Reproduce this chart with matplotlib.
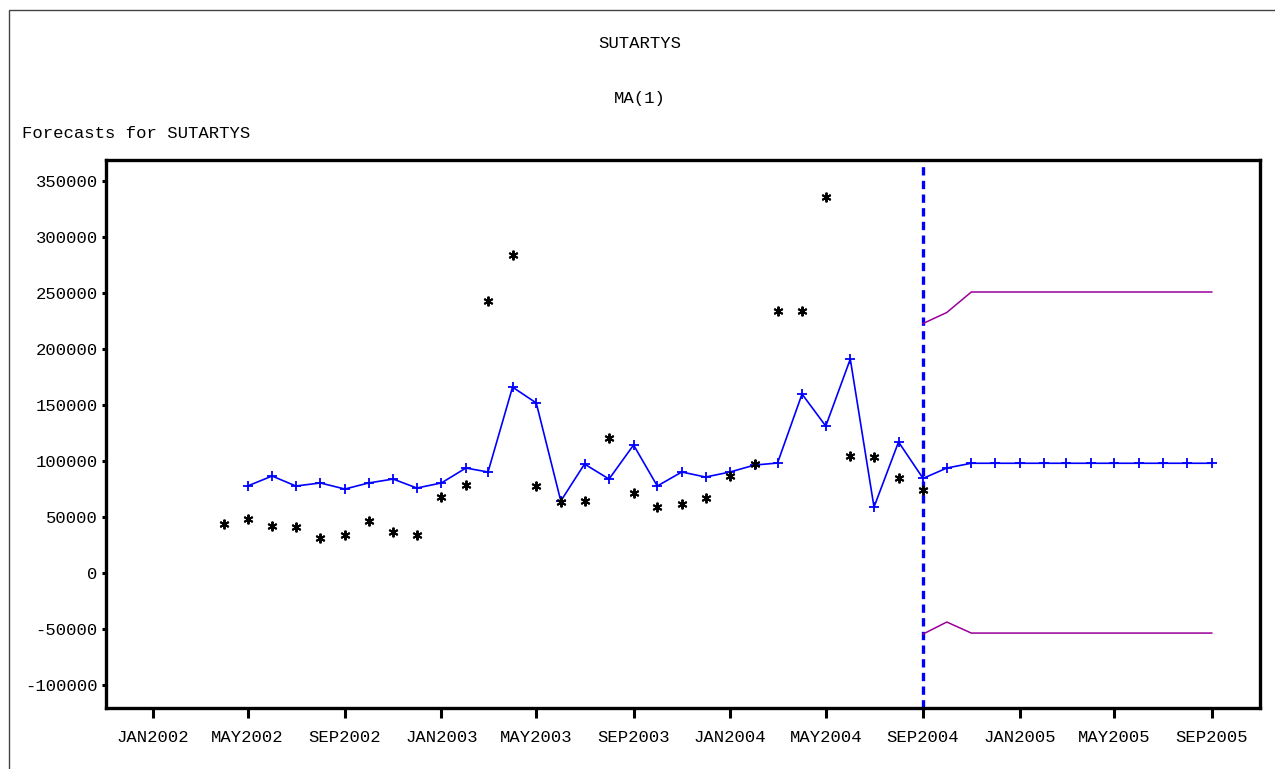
import numpy as np
import pandas as pd
import matplotlib
matplotlib.use("Agg")
import matplotlib.pyplot as plt
import matplotlib.dates as mdates
from matplotlib.patches import Rectangle

# observed SUTARTYS values, APR2002 .. SEP2004
actual_start = "2002-04-01"
actual = [43750, 48200, 42000, 41000, 31000, 34000, 46400, 36600, 34000,
          67900, 78600, 242900, 284000, 77700, 63400, 64300, 120500, 71400,
          58900, 61600, 67000, 86600, 97000, 234000, 234000, 335700, 104500,
          103600, 84800, 74100]

# one-step-ahead fit and forecasts, MAY2002 .. SEP2005
forecast_start = "2002-05-01"
forecast = [77700, 86600, 77700, 80400, 75000, 80400, 83900, 75900, 80400,
            93750, 90200, 166000, 151800, 64300, 97300, 83900, 114300, 77700,
            90200, 85700, 90200, 96400, 98200, 159800, 131200, 191000, 58900,
            117000, 84500, 93750, 98000, 98000, 98000, 98000, 98000, 98000,
            98000, 98000, 98000, 98000, 98000]

# confidence limits, SEP2004 .. SEP2005
limit_start = "2004-09-01"
upper = [222800, 232600, 250900, 250900, 250900, 250900, 250900, 250900,
         250900, 250900, 250900, 250900, 250900]
lower = [-54500, -43750, -53600, -53600, -53600, -53600, -53600, -53600,
         -53600, -53600, -53600, -53600, -53600]

lead_date = "2004-09-01"
xticks = ["2002-01-01", "2002-05-01", "2002-09-01", "2003-01-01", "2003-05-01",
          "2003-09-01", "2004-01-01", "2004-05-01", "2004-09-01", "2005-01-01",
          "2005-05-01", "2005-09-01"]
yticks = [350000, 300000, 250000, 200000, 150000, 100000, 50000, 0,
          -50000, -100000]

font = ["Liberation Mono", "DejaVu Sans Mono"]
fs = 12.4

t_act = pd.date_range(actual_start, periods=len(actual), freq="MS")
t_fc = pd.date_range(forecast_start, periods=len(forecast), freq="MS")
t_lim = pd.date_range(limit_start, periods=len(upper), freq="MS")

fig = plt.figure(figsize=(12.75, 7.69), dpi=100)
fig.patches.append(Rectangle((9 / 1275, -0.1), 1.5, 1.1 - 10 / 769,
                             transform=fig.transFigure, fill=False,
                             edgecolor="#444444", linewidth=1.0))

fig.text(0.502, 1 - 44 / 769, "SUTARTYS", ha="center", va="center",
         family=font, fontsize=fs)
fig.text(0.502, 1 - 99 / 769, "MA(1)", ha="center", va="center",
         family=font, fontsize=fs)
fig.text(22 / 1275, 1 - 134 / 769, "Forecasts for SUTARTYS", ha="left",
         va="center", family=font, fontsize=fs)

ax = fig.add_axes([106 / 1275, 61 / 769, 1154 / 1275, 548 / 769])

ax.plot(t_act, actual, linestyle="none", marker=(6, 2, 0), markersize=7,
        markeredgewidth=1.4, color="black", zorder=4)
ax.plot(t_fc, forecast, color="#0000ff", linewidth=1.2, marker="+",
        markersize=7, markeredgewidth=1.3, zorder=3)
ax.plot(t_lim, upper, color="#990099", linewidth=1.1, zorder=3)
ax.plot(t_lim, lower, color="#990099", linewidth=1.1, zorder=3)
ax.axvline(pd.Timestamp(lead_date), color="#0000ff", linewidth=2.4,
           linestyle=(0, (2.5, 1.6)), zorder=2)

ax.set_xlim(pd.Timestamp("2001-11-03"), pd.Timestamp("2005-11-01"))
ax.set_ylim(-120500, 368750)

ax.set_xticks([pd.Timestamp(d) for d in xticks])
ax.xaxis.set_major_formatter(
    plt.FuncFormatter(lambda v, p: mdates.num2date(v).strftime("%b%Y").upper()))
ax.set_yticks(yticks)
ax.set_yticklabels([str(v) for v in yticks])

for lab in ax.get_xticklabels() + ax.get_yticklabels():
    lab.set_family(font)
    lab.set_fontsize(fs)

ax.tick_params(axis="x", direction="out", length=7, width=2.2, pad=9)
ax.tick_params(axis="y", direction="out", length=3, width=2.2, pad=3)
for s in ax.spines.values():
    s.set_linewidth(2.4)

fig.savefig("out.png", dpi=100)
